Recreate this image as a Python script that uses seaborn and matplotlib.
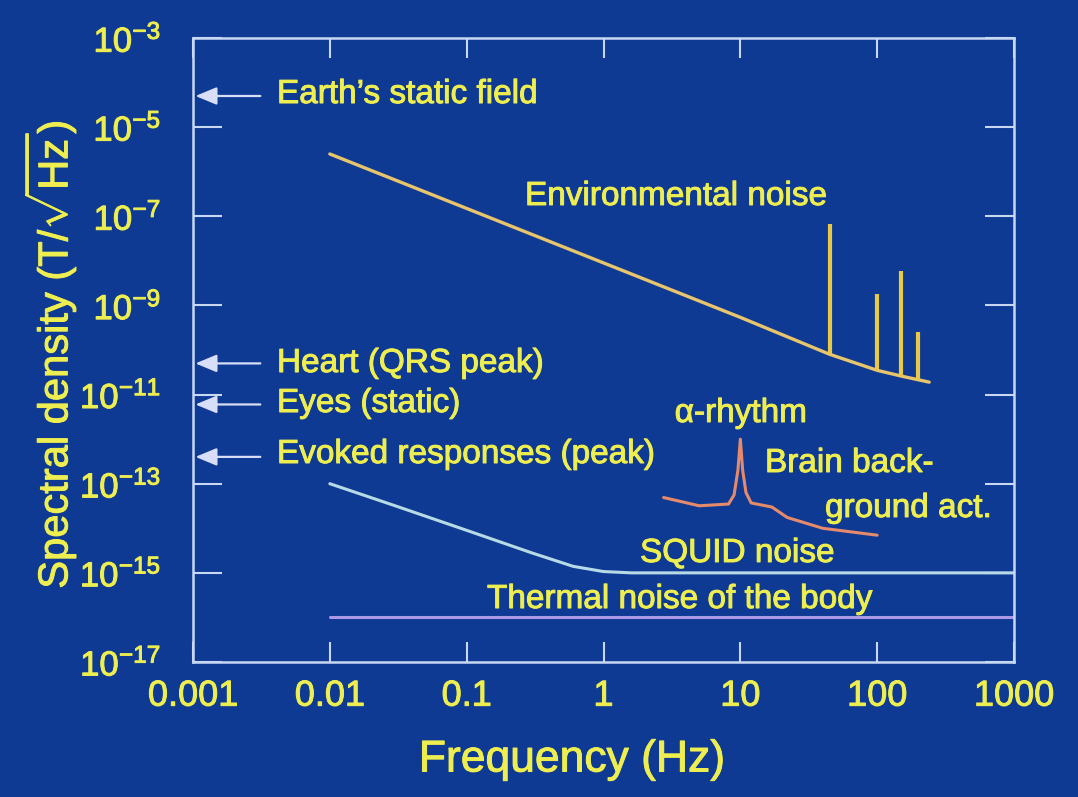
import numpy as np
import pandas as pd
import matplotlib
matplotlib.use("Agg")
import matplotlib.pyplot as plt
import matplotlib.patheffects as pe
from matplotlib.ticker import FixedLocator, FixedFormatter, NullLocator
import seaborn as sns

# Magnetic spectral densities (T/sqrt(Hz)) versus frequency (Hz)
env_freq = [0.01, 0.1, 1, 10, 45, 100, 150, 240]
env_density = [2.5e-6, 1.5e-7, 9e-9, 5.4e-10, 8e-11, 3.5e-11, 2.6e-11, 1.9e-11]

# Power-line peaks on top of the environmental noise
mains_freq = [45, 100, 150, 200]
mains_peak = [6.6e-8, 1.8e-9, 6e-9, 2.5e-10]

squid_freq = [0.01, 0.03, 0.1, 0.3, 0.6, 1, 1.6, 3, 10, 100, 1000]
squid_density = [1e-13, 3.2e-14, 9e-15, 2.8e-15, 1.4e-15, 1.07e-15, 1e-15, 1e-15, 1e-15, 1e-15, 1e-15]

thermal_freq = [0.01, 1000]
thermal_density = [1e-16, 1e-16]

brain_freq = [2.75, 5, 8.2, 9, 9.6, 10, 10.4, 11, 12, 17, 22, 40, 100]
brain_density = [4.9e-14, 3.2e-14, 3.5e-14, 5.6e-14, 2e-13, 1.0e-12, 2e-13, 6.3e-14,
                 3.7e-14, 3e-14, 1.75e-14, 1.0e-14, 7e-15]

# Typical biomagnetic / ambient field levels marked by arrows
marker_names = ["Earth\u2019s static field", "Heart (QRS peak)", "Eyes (static)", "Evoked responses (peak)"]
marker_values = [5e-5, 5e-11, 6e-12, 4e-13]

x_ticks = [0.001, 0.01, 0.1, 1, 10, 100, 1000]
x_tick_labels = ["0.001", "0.01", "0.1", "1", "10", "100", "1000"]
y_exponents = [-3, -5, -7, -9, -11, -13, -15, -17]

BG = "#0e3a93"
FRAME = "#c8d8f2"
TEXT = "#eeee50"
BOLDEN = [pe.withStroke(linewidth=0.7, foreground=TEXT)]

sns.set_style("white")
plt.rcParams["font.family"] = ["Liberation Sans", "DejaVu Sans"]
plt.rcParams["mathtext.fontset"] = "custom"
plt.rcParams["mathtext.rm"] = "Liberation Sans"
plt.rcParams["mathtext.it"] = "Liberation Sans:italic"
plt.rcParams["mathtext.bf"] = "Liberation Sans:bold"

fig = plt.figure(figsize=(10.78, 7.97), dpi=100, facecolor=BG)
ax = fig.add_axes([193 / 1078, 1 - 662 / 797, 821 / 1078, 624 / 797])
ax.set_facecolor(BG)
ax.set_xscale("log")
ax.set_yscale("log")
ax.set_xlim(1e-3, 1e3)
ax.set_ylim(1e-17, 1e-3)

env = pd.DataFrame({"f": env_freq, "B": env_density})
squid = pd.DataFrame({"f": squid_freq, "B": squid_density})
thermal = pd.DataFrame({"f": thermal_freq, "B": thermal_density})
brain = pd.DataFrame({"f": brain_freq, "B": brain_density})

sns.lineplot(data=thermal, x="f", y="B", ax=ax, color="#ad98e6", lw=2.2, sort=False)
sns.lineplot(data=squid, x="f", y="B", ax=ax, color="#b6dbe6", lw=2.2, sort=False)
sns.lineplot(data=brain, x="f", y="B", ax=ax, color="#e58a6a", lw=2.2, sort=False)
sns.lineplot(data=env, x="f", y="B", ax=ax, color="#e8c46c", lw=2.4, sort=False)

# mains peaks rise from the environmental noise floor
base = 10 ** np.interp(np.log10(mains_freq), np.log10(env_freq), np.log10(env_density))
ax.vlines(mains_freq, base, mains_peak, color="#e8c846", lw=3)

# axes frame and ticks
for s in ax.spines.values():
    s.set_color(FRAME)
    s.set_linewidth(1.8)
ax.xaxis.set_major_locator(FixedLocator(x_ticks))
ax.xaxis.set_major_formatter(FixedFormatter(x_tick_labels))
ax.xaxis.set_minor_locator(NullLocator())
y_ticks = [10.0 ** e for e in y_exponents]
ax.yaxis.set_major_locator(FixedLocator(y_ticks))
ax.yaxis.set_major_formatter(FixedFormatter([f"$10^{{{e}}}$" for e in y_exponents]))
ax.yaxis.set_minor_locator(NullLocator())
ax.tick_params(axis="x", which="major", direction="in", length=14.5, width=1.5,
               color=FRAME, top=True, bottom=True, labelsize=26, labelcolor=TEXT, pad=12)
ax.tick_params(axis="y", which="major", direction="in", length=21, width=1.5,
               color=FRAME, left=True, right=True, labelsize=25, labelcolor=TEXT, pad=23)
for lab in ax.get_xticklabels() + ax.get_yticklabels():
    lab.set_path_effects(BOLDEN)

ax.set_xlabel("Frequency (Hz)", fontsize=32, color=TEXT, va="center", path_effects=BOLDEN)
ax.xaxis.set_label_coords((572 - 193) / 821, (662 - 760) / 624)
ax.set_ylabel(r"Spectral density (T/$\sqrt{\mathrm{Hz}}$)", fontsize=30, color=TEXT,
              va="center", path_effects=BOLDEN)
ax.yaxis.set_label_coords((50 - 193) / 821, (662 - 355) / 624)

# arrows for reference field levels
marker_text_y = [0.8958, 0.4647, 0.4006, 0.3189]
for name, val, ty in zip(marker_names, marker_values, marker_text_y):
    ax.annotate("", xy=(0.003, val), xycoords=("axes fraction", "data"),
                xytext=(0.082, val), textcoords=("axes fraction", "data"),
                arrowprops=dict(arrowstyle="-|>,head_length=0.65,head_width=0.27",
                                color="#d8def8", lw=1.6, shrinkA=0, shrinkB=0,
                                mutation_scale=20))
    ax.text(0.1023, ty, name, transform=ax.transAxes, fontsize=24,
            color=TEXT, ha="left", va="baseline", path_effects=BOLDEN)

curve_labels = [
    ("Environmental noise", 0.4044, 0.7324, "left"),
    ("\u03b1-rhythm", 0.6675, 0.3846, "center"),
    ("Brain back-", 0.6967, 0.3045, "left"),
    ("ground act.", 0.7698, 0.2324, "left"),
    ("SQUID noise", 0.5445, 0.1603, "left"),
    ("Thermal noise of the body", 0.3581, 0.0865, "left"),
]
for txt, x, y, ha in curve_labels:
    ax.text(x, y, txt, transform=ax.transAxes, fontsize=24, color=TEXT,
            ha=ha, va="baseline", path_effects=BOLDEN)

fig.savefig("out.png", dpi=100, facecolor=BG)
